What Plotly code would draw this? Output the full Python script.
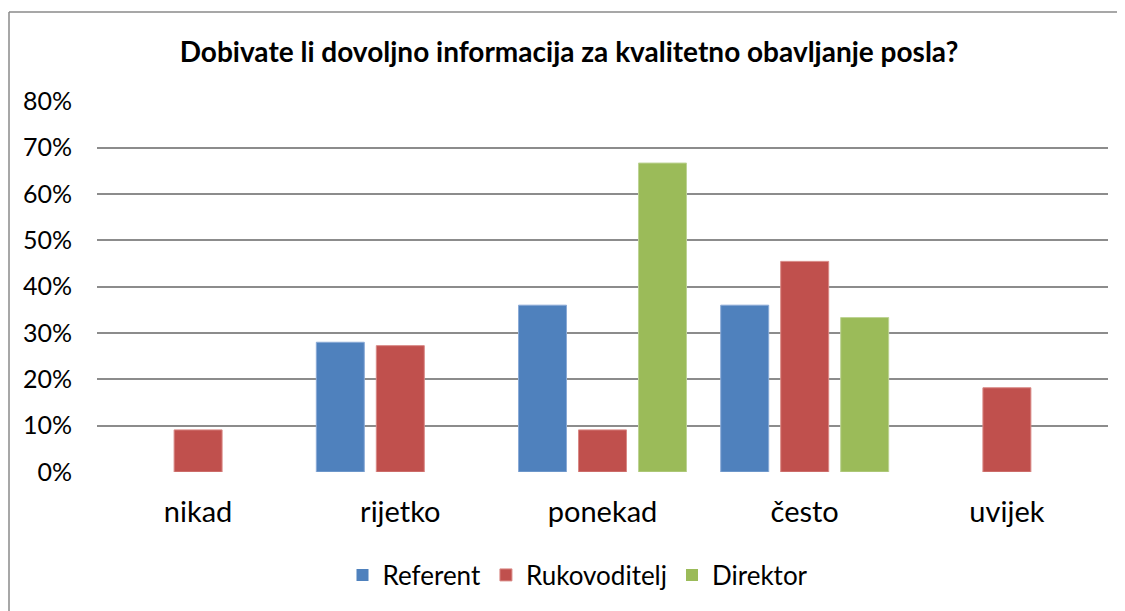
import plotly.graph_objects as go

categories = ["nikad", "rijetko", "ponekad", "često", "uvijek"]
referent = [0, 0.28, 0.36, 0.36, 0]
rukovoditelj = [0.0909, 0.2727, 0.0909, 0.4545, 0.1818]
direktor = [0, 0, 0.6667, 0.3333, 0]
series_names = ["Referent", "Rukovoditelj", "Direktor"]
tick_vals = [0, 0.1, 0.2, 0.3, 0.4, 0.5, 0.6, 0.7, 0.8]
tick_text = ["0%", "10%", "20%", "30%", "40%", "50%", "60%", "70%", "80%"]
title_text = "Dobivate li dovoljno informacija za kvalitetno obavljanje posla?"

colors = ["#4F81BD", "#C0504D", "#9BBB59"]
outline = ["#8AAAD6", "#D98986", "#BDD394"]
FONT = "Lato"

fig = go.Figure()
for name, vals, c, oc in zip(series_names, [referent, rukovoditelj, direktor], colors, outline):
    fig.add_trace(go.Bar(
        x=categories, y=vals, name=name,
        marker=dict(color=c, line=dict(color=oc, width=[1 if v > 0 else 0 for v in vals])),
    ))

# page body has an 8px margin; subtract it from screenshot coords
OFF = 8
W, H = 1125, 611
L, R, T, B = 97 - OFF, 1108 - OFF, 101 - OFF, 472 - OFF
pw, ph = R - L, B - T

def px(x):
    return (x - OFF - L) / pw

def py(y):
    return (B - (y - OFF)) / ph

fig.update_layout(
    width=W, height=H,
    margin=dict(l=L, r=W - R, t=T, b=H - B, autoexpand=False),
    paper_bgcolor="white", plot_bgcolor="white",
    barmode="group", bargap=0.11, bargroupgap=0.2,
    font=dict(family=FONT, color="#000000"),
    title=dict(
        text="<b>" + title_text + "</b>",
        x=(569 - OFF) / W, xanchor="center", xref="container",
        y=1 - (52 - OFF) / H, yanchor="middle", yref="container",
        font=dict(family=FONT, size=28, color="#000000"),
    ),
    showlegend=True,
    legend=dict(
        orientation="h", x=px(578), xanchor="center",
        y=py(575), yanchor="middle",
        font=dict(family=FONT, size=26, color="#000000"),
        itemwidth=30, tracegroupgap=0,
    ),
    xaxis=dict(
        showgrid=False, showline=False, zeroline=False, ticks="",
        tickfont=dict(family=FONT, size=29, color="#000000"),
        ticklabelstandoff=20,
    ),
    yaxis=dict(
        range=[0, 0.8006], tickvals=tick_vals, ticktext=tick_text,
        showgrid=True, gridcolor="#8C8C8C", gridwidth=1.5,
        zeroline=False, showline=False, ticks="",
        tickfont=dict(family=FONT, size=25, color="#000000"),
        ticklabelstandoff=24,
    ),
    shapes=[
        dict(type="line", xref="paper", yref="paper",
             x0=px(9), x1=px(1140), y0=py(12), y1=py(12),
             line=dict(color="#8A8A8A", width=1.5)),
        dict(type="line", xref="paper", yref="paper",
             x0=px(9), x1=px(9), y0=py(12), y1=py(630),
             line=dict(color="#8A8A8A", width=1.5)),
    ],
)

fig.write_html("out.html")
